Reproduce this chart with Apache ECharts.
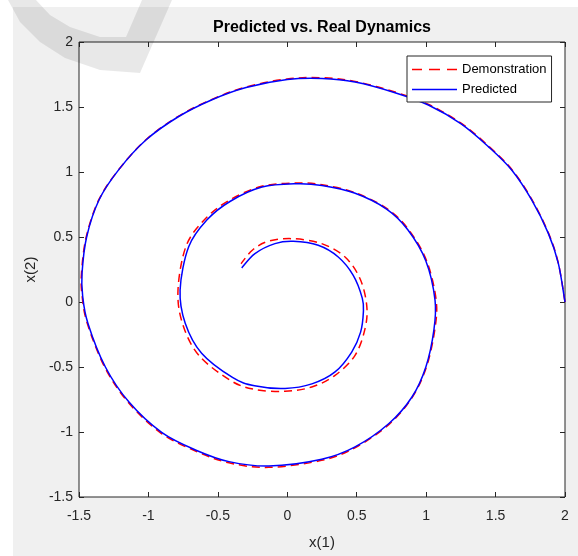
<!DOCTYPE html>
<html>
<head>
<meta charset="utf-8">
<script src="https://cdn.jsdelivr.net/npm/echarts@6/dist/echarts.min.js"></script>
<style>
html,body{margin:0;padding:0;background:#fff;}
#bg{position:absolute;left:13px;top:7px;width:565px;height:549px;background:#f0f0f0;}
#chart{position:absolute;left:0;top:0;width:578px;height:556px;}
</style>
</head>
<body>
<div id="bg"></div>
<div id="chart"></div>
<script>
const titleText = 'Predicted vs. Real Dynamics';
const seriesNames = ['Demonstration', 'Predicted'];
const xLabel = 'x(1)';
const yLabel = 'x(2)';
const axisMin = -1.5, axisMax = 2, axisStep = 0.5;

// Predicted trajectory (x(1), x(2))
const predicted = [
  [2.0, 0.0], [1.952, 0.297], [1.88, 0.528], [1.76, 0.785], [1.616, 1.015], [1.448, 1.195],
  [1.252, 1.37], [1.016, 1.515], [0.776, 1.61], [0.488, 1.692], [0.25, 1.72], [0.0, 1.712],
  [-0.297, 1.65], [-0.542, 1.556], [-0.785, 1.425], [-1.018, 1.246], [-1.212, 1.02],
  [-1.356, 0.785], [-1.445, 0.5], [-1.478, 0.223], [-1.474, 0.05], [-1.436, -0.163],
  [-1.31, -0.5], [-1.14, -0.77], [-0.905, -1.003], [-0.657, -1.14], [-0.42, -1.228],
  [-0.132, -1.262], [0.248, -1.21], [0.488, -1.115], [0.732, -0.935], [0.898, -0.731],
  [0.998, -0.5], [1.056, -0.215], [1.064, 0.015], [0.998, 0.316], [0.868, 0.556],
  [0.715, 0.715], [0.484, 0.838], [0.25, 0.897], [0.063, 0.91], [-0.182, 0.884],
  [-0.41, 0.775], [-0.578, 0.632], [-0.71, 0.425], [-0.772, 0.093], [-0.735, -0.163],
  [-0.617, -0.394], [-0.395, -0.58], [-0.236, -0.645], [-0.016, -0.665], [0.177, -0.63],
  [0.344, -0.538], [0.464, -0.385], [0.528, -0.232], [0.548, -0.077], [0.54, 0.03],
  [0.475, 0.205], [0.367, 0.346], [0.223, 0.436], [0.043, 0.467], [-0.089, 0.449],
  [-0.233, 0.372], [-0.328, 0.262]
];

// Demonstration trajectory (x(1), x(2))
const demonstration = [
  [2.0, 0.0], [1.952, 0.298], [1.881, 0.53], [1.762, 0.788], [1.618, 1.018], [1.45, 1.199],
  [1.254, 1.374], [1.018, 1.519], [0.776, 1.615], [0.488, 1.697], [0.25, 1.725], [0.0, 1.716],
  [-0.297, 1.654], [-0.542, 1.559], [-0.785, 1.428], [-1.018, 1.248], [-1.212, 1.021],
  [-1.358, 0.785], [-1.448, 0.5], [-1.482, 0.223], [-1.478, 0.05], [-1.44, -0.166],
  [-1.314, -0.503], [-1.143, -0.775], [-0.908, -1.01], [-0.657, -1.148], [-0.42, -1.237],
  [-0.132, -1.272], [0.248, -1.218], [0.49, -1.12], [0.735, -0.939], [0.9, -0.733],
  [1.002, -0.5], [1.062, -0.215], [1.072, 0.015], [1.003, 0.318], [0.872, 0.559],
  [0.718, 0.718], [0.486, 0.842], [0.25, 0.902], [0.063, 0.915], [-0.185, 0.89],
  [-0.418, 0.782], [-0.59, 0.64], [-0.728, 0.432], [-0.787, 0.093], [-0.754, -0.168],
  [-0.637, -0.41], [-0.41, -0.603], [-0.235, -0.672], [-0.016, -0.687], [0.176, -0.654],
  [0.344, -0.564], [0.488, -0.41], [0.56, -0.205], [0.572, -0.026], [0.524, 0.179],
  [0.416, 0.346], [0.248, 0.449], [0.04, 0.487], [-0.137, 0.467], [-0.25, 0.4],
  [-0.333, 0.295]
];

const axisColor = '#262626';
const font = 'Liberation Sans, Arial, Helvetica, sans-serif';

function valueAxis(extra) {
  return Object.assign({
    type: 'value', min: axisMin, max: axisMax, interval: axisStep,
    axisLine: { show: false, onZero: false },
    axisTick: { show: true, inside: true, length: 5, lineStyle: { color: axisColor, width: 1 } },
    splitLine: { show: false },
    axisLabel: { show: false }
  }, extra);
}

// Smooth curve (Catmull-Rom) through the points, mapped with api.coord
function curveRenderer(color, dash) {
  return function (params, api) {
    if (params.dataIndexInside !== 0) return null;
    const n = params.dataInsideLength;
    const p = [];
    for (let j = 0; j < n; j++) {
      p.push(api.coord([api.value(0, j), api.value(1, j)]));
    }
    let d = 'M' + p[0][0] + ' ' + p[0][1];
    for (let i = 0; i < n - 1; i++) {
      const p0 = p[Math.max(i - 1, 0)], p1 = p[i], p2 = p[i + 1], p3 = p[Math.min(i + 2, n - 1)];
      const c1x = p1[0] + (p2[0] - p0[0]) / 6, c1y = p1[1] + (p2[1] - p0[1]) / 6;
      const c2x = p2[0] - (p3[0] - p1[0]) / 6, c2y = p2[1] - (p3[1] - p1[1]) / 6;
      d += 'C' + c1x + ' ' + c1y + ' ' + c2x + ' ' + c2y + ' ' + p2[0] + ' ' + p2[1];
    }
    return {
      type: 'path',
      shape: { pathData: d },
      style: { stroke: color, lineWidth: 1.5, fill: null, lineDash: dash },
      silent: true
    };
  };
}

const chart = echarts.init(document.getElementById('chart'), null, { renderer: 'canvas' });
chart.setOption({
  backgroundColor: 'transparent',
  animation: false,
  title: {
    text: titleText, left: 317, top: 15, textAlign: 'center',
    textStyle: { fontFamily: font, fontSize: 16, fontWeight: 'bold', color: '#000' }
  },
  grid: {
    left: 79, right: 13, top: 42, bottom: 59, show: true,
    backgroundColor: '#fff', borderColor: axisColor, borderWidth: 1
  },
  legend: {
    orient: 'vertical', left: 407, top: 56,
    backgroundColor: '#fff', borderColor: axisColor, borderWidth: 1,
    padding: [7, 5, 6, 5], itemWidth: 45, itemHeight: 1.5, itemGap: 7,
    symbolKeepAspect: false,
    textStyle: { fontFamily: font, fontSize: 13, color: '#000' },
    data: [
      { name: seriesNames[0], icon: 'path://M0,0H10V2H0ZM17,0H28V2H17ZM35,0H45V2H35Z' },
      { name: seriesNames[1], icon: 'path://M0,0H45V2H0Z' }
    ]
  },
  xAxis: [
    valueAxis({
      position: 'bottom',
      axisLabel: { show: true, color: axisColor, fontFamily: font, fontSize: 14, margin: 12 },
      name: xLabel, nameLocation: 'middle', nameGap: 38,
      nameTextStyle: { color: axisColor, fontFamily: font, fontSize: 15 }
    }),
    valueAxis({ position: 'top' })
  ],
  yAxis: [
    valueAxis({
      position: 'left',
      axisLabel: { show: true, color: axisColor, fontFamily: font, fontSize: 14, margin: 6 },
      name: yLabel, nameLocation: 'middle', nameGap: 34,
      nameTextStyle: { color: axisColor, fontFamily: font, fontSize: 15 }
    }),
    valueAxis({ position: 'right' })
  ],
  graphic: [{
    type: 'polygon', z: 100, silent: true,
    shape: { points: [[8, 0], [20, 22], [40, 42], [65, 58], [100, 70], [140, 73], [172, 0],
                      [142, 0], [126, 37], [100, 37], [70, 27], [50, 15], [36, 0]] },
    style: { fill: 'rgba(0,0,0,0.09)' }
  }],
  series: [
    {
      name: seriesNames[0], type: 'custom', xAxisIndex: 0, yAxisIndex: 0,
      data: demonstration, renderItem: curveRenderer('#ff0000', [8, 5]),
      itemStyle: { color: '#ff0000' }, clip: false
    },
    {
      name: seriesNames[1], type: 'custom', xAxisIndex: 0, yAxisIndex: 0,
      data: predicted, renderItem: curveRenderer('#0000ff', null),
      itemStyle: { color: '#0000ff' }, clip: false
    }
  ]
});
</script>
</body>
</html>
